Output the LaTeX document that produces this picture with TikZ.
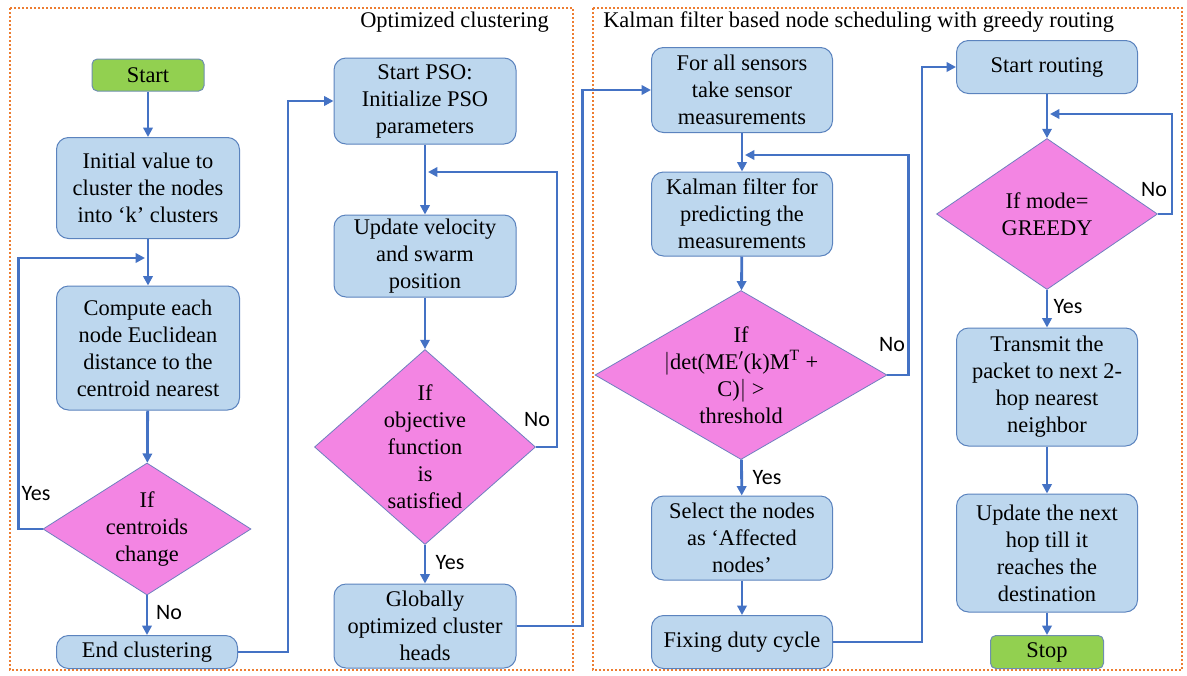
\documentclass[tikz,border=0pt]{standalone}
\usepackage{fontspec}
\setmainfont{Liberation Serif}
\newfontfamily\lblfont{Carlito}
\usetikzlibrary{arrows.meta,shapes.geometric,calc}
\definecolor{boxfill}{HTML}{BDD7EE}
\definecolor{boxdraw}{HTML}{5B83BE}
\definecolor{diafill}{HTML}{F385E3}
\definecolor{diadraw}{HTML}{6F7FC0}
\definecolor{grnfill}{HTML}{92D050}
\definecolor{grndraw}{HTML}{6E8FAE}
\definecolor{conncol}{HTML}{4472C4}
\definecolor{framecol}{HTML}{ED7D31}
\begin{document}
\begin{tikzpicture}[x=0.75pt,y=-0.75pt,
  txt/.style={font=\fontsize{16.8}{20.25}\selectfont},
  sz/.style 2 args={minimum width=#1*0.75pt, minimum height=#2*0.75pt},
  fcbox/.style={txt, draw=boxdraw, line width=0.75pt, fill=boxfill, rounded corners=9pt, align=center, inner sep=0pt},
  fcterm/.style={txt, draw=grndraw, line width=0.75pt, fill=grnfill, rounded corners=4pt, align=center, inner sep=0pt},
  fcdia/.style={diamond, draw=diadraw, line width=0.6pt, fill=diafill, inner sep=0pt},
  dtext/.style={txt, align=center, inner sep=0pt},
  conn/.style={draw=conncol, line width=2.1pt, -{Triangle[length=7pt,width=7pt]}},
  yn/.style={font=\lblfont\fontsize{16.5}{19}\selectfont, inner sep=0pt},
  ttl/.style={txt, inner sep=0pt},
  frm/.style={draw=framecol, line width=1.5pt, dash pattern=on 1.5pt off 1.5pt}
]
\useasboundingbox (0,0) rectangle (1187,675);
% frames
\draw[frm] (10,8) rectangle (573,670);
\draw[frm] (593,8) rectangle (1182,670);
\node[ttl, anchor=east] (t1) at (549,22) {Optimized clustering};
\node[ttl, anchor=west] (t2) at (603,22) {Kalman filter based node scheduling with greedy routing};

% column 1
\node[fcterm, sz={112}{32}] (start) at (148,75) {Start};
\node[fcbox, sz={183}{101}] (init) at (148,188) {Initial value to\\cluster the nodes\\into ‘k’ clusters};
\node[fcbox, sz={183}{124}] (comp) at (148,348) {Compute each\\node Euclidean\\distance to the\\centroid nearest};
\node[fcdia, sz={208}{132}, label={[dtext]center:If\\centroids\\change}] (d1) at (147,529) {};
\node[fcbox, sz={181}{33}] (endc) at (147,652) {End clustering};

% column 2
\node[fcbox, sz={182}{86}] (pso) at (425,101) {Start PSO:\\Initialize PSO\\parameters};
\node[fcbox, sz={182}{82}] (upd) at (425,256) {Update velocity\\and swarm\\position};
\node[fcdia, sz={221}{195}, label={[dtext]center:If\\objective\\function\\is\\satisfied}] (d2) at (425,447) {};
\node[fcbox, sz={182}{84}] (glob) at (425,626) {Globally\\optimized cluster\\heads};

% column 3
\node[fcbox, sz={181}{85}] (forall) at (742,90) {For all sensors\\take sensor\\measurements};
\node[fcbox, sz={181}{84}] (kal) at (742,214) {Kalman filter for\\predicting the\\measurements};
\node[fcdia, sz={292}{169}, label={[dtext]center:If\\$\bigl|$det(ME$'$(k)M$^{\mathrm{T}}$ +\\C)$\bigr|$ >\\threshold}] (d3) at (741,375) {};
\node[fcbox, sz={181}{84}] (sel) at (742,538) {Select the nodes\\as ‘Affected\\nodes’};
\node[fcbox, sz={181}{53}] (fix) at (742,642) {Fixing duty cycle};

% column 4
\node[fcbox, sz={181}{53}] (route) at (1047,67) {Start routing};
\node[fcdia, sz={221}{151}, label={[dtext]center:If mode=\\GREEDY}] (d4) at (1047,214) {};
\node[fcbox, sz={181}{118}] (trans) at (1047,387) {Transmit the\\packet to next 2-\\hop nearest\\neighbor};
\node[fcbox, sz={181}{118}] (upd2) at (1047,553) {Update the next\\hop till it\\reaches the\\destination};
\node[fcterm, sz={113}{33}] (stop) at (1047,652) {Stop};

% junction coordinates
\coordinate (j1) at (145,258);
\coordinate (j2) at (428,172);
\coordinate (j3) at (745,155);
\coordinate (j4) at (1050,114);

% connectors column 1
\draw[conn] (start) -- (init);
\draw[conn] (init) -- (comp);
\draw[conn] (comp) -- (d1);
\draw[conn] (d1) -- (endc);
\draw[conn] (d1.west) -- ++(-24,0) |- (j1);
\node[yn] (yes1) at (36,494) {Yes};
\node[yn] (no1) at (169,613) {No};
\draw[conn] (endc.east) -- ++(50,0) |- (pso.west);

% column 2
\draw[conn] (pso) -- (upd);
\draw[conn] (upd) -- (d2);
\draw[conn] (d2) -- (glob);
\draw[conn] (d2.east) -- ++(21,0) |- (j2);
\node[yn] (no2) at (537,420) {No};
\node[yn] (yes2) at (450,563) {Yes};
\draw[conn] (glob.east) -- ++(66,0) |- (forall.west);

% column 3
\draw[conn] (forall) -- (kal);
\draw[conn] (kal) -- (d3);
\draw[conn] (d3) -- (sel);
\draw[conn] (sel) -- (fix);
\draw[conn] (d3.east) -- ++(21,0) |- (j3);
\node[yn] (no3) at (892,345) {No};
\node[yn] (yes3) at (767,478) {Yes};
\draw[conn] (fix.east) -- ++(89,0) |- (route.west);

% column 4
\draw[conn] (route) -- (d4);
\draw[conn] (d4) -- (trans);
\draw[conn] (trans) -- (upd2);
\draw[conn] (upd2) -- (stop);
\draw[conn] (d4.east) -- ++(14,0) |- (j4);
\node[yn] (no4) at (1154,190) {No};
\node[yn] (yes4) at (1068,307) {Yes};
\end{tikzpicture}
\end{document}
